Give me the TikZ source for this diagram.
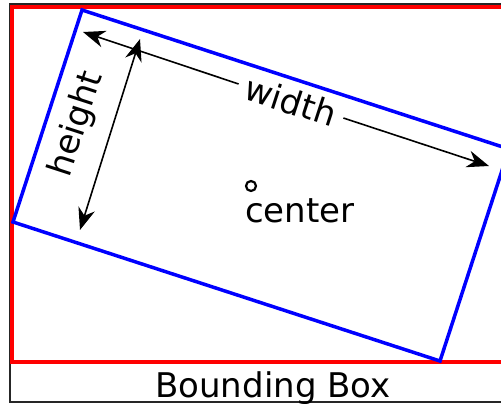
\documentclass[tikz,border=0pt]{standalone}
\usepackage{fontspec}
\setmainfont{DejaVu Sans}
\usetikzlibrary{arrows.meta}
\begin{document}
\begin{tikzpicture}[x=1pt,y=-1pt,
  lbl/.style={font=\fontsize{34}{40}\selectfont, inner sep=0pt},
  tip/.style={Stealth[length=22pt,width=17pt,inset=7pt]},
  dimline/.style={line width=1.6pt, black, -{Stealth[length=22pt,width=17pt,inset=7pt]}},
  bbox/.style={draw=red, line width=3.5pt},
  rotbox/.style={draw=blue, line width=3.5pt, line join=miter},
  frame/.style={draw=black!85, line width=1.2pt}]
\useasboundingbox (0,0) rectangle (501,404);
\clip (0,0) rectangle (501,404);
\fill[white] (0,0) rectangle (501,404);
% outer frame
\draw[frame] (10,4) rectangle (530,402);
% bounding box (red)
\draw[bbox] (12,7) rectangle (520,362);
% rotated rectangle (blue)
\coordinate (ct) at (82,10);
\coordinate (cr) at (509,149);
\coordinate (cb) at (440,361);
\coordinate (cl) at (13,222);
\draw[rotbox] (ct) -- (cr) -- (cb) -- (cl) -- cycle;
% width dimension
\coordinate (wl) at (83,32);
\coordinate (wr) at (489,166);
\node[lbl, rotate=-18, inner xsep=8pt] (wlab) at (291,101) {width};
\draw[dimline] (wlab.west) -- (wl);
\draw[dimline] (wlab.east) -- (wr);
% height dimension
\coordinate (ht) at (140,39);
\coordinate (hb) at (80,230);
\draw[dimline, {Stealth[length=22pt,width=17pt,inset=7pt]}-{Stealth[length=22pt,width=17pt,inset=7pt]}] (hb) -- (ht);
\node[lbl, rotate=72] (hlab) at (77,124) {height};
% center
\node[draw, circle, line width=2.2pt, minimum size=10pt, inner sep=0pt] (cdot) at (251,186) {};
\node[lbl, anchor=base west] (clab) at (245,222) {center};
% caption
\node[lbl, anchor=base] (bblab) at (273,397) {Bounding Box};
\end{tikzpicture}
\end{document}
